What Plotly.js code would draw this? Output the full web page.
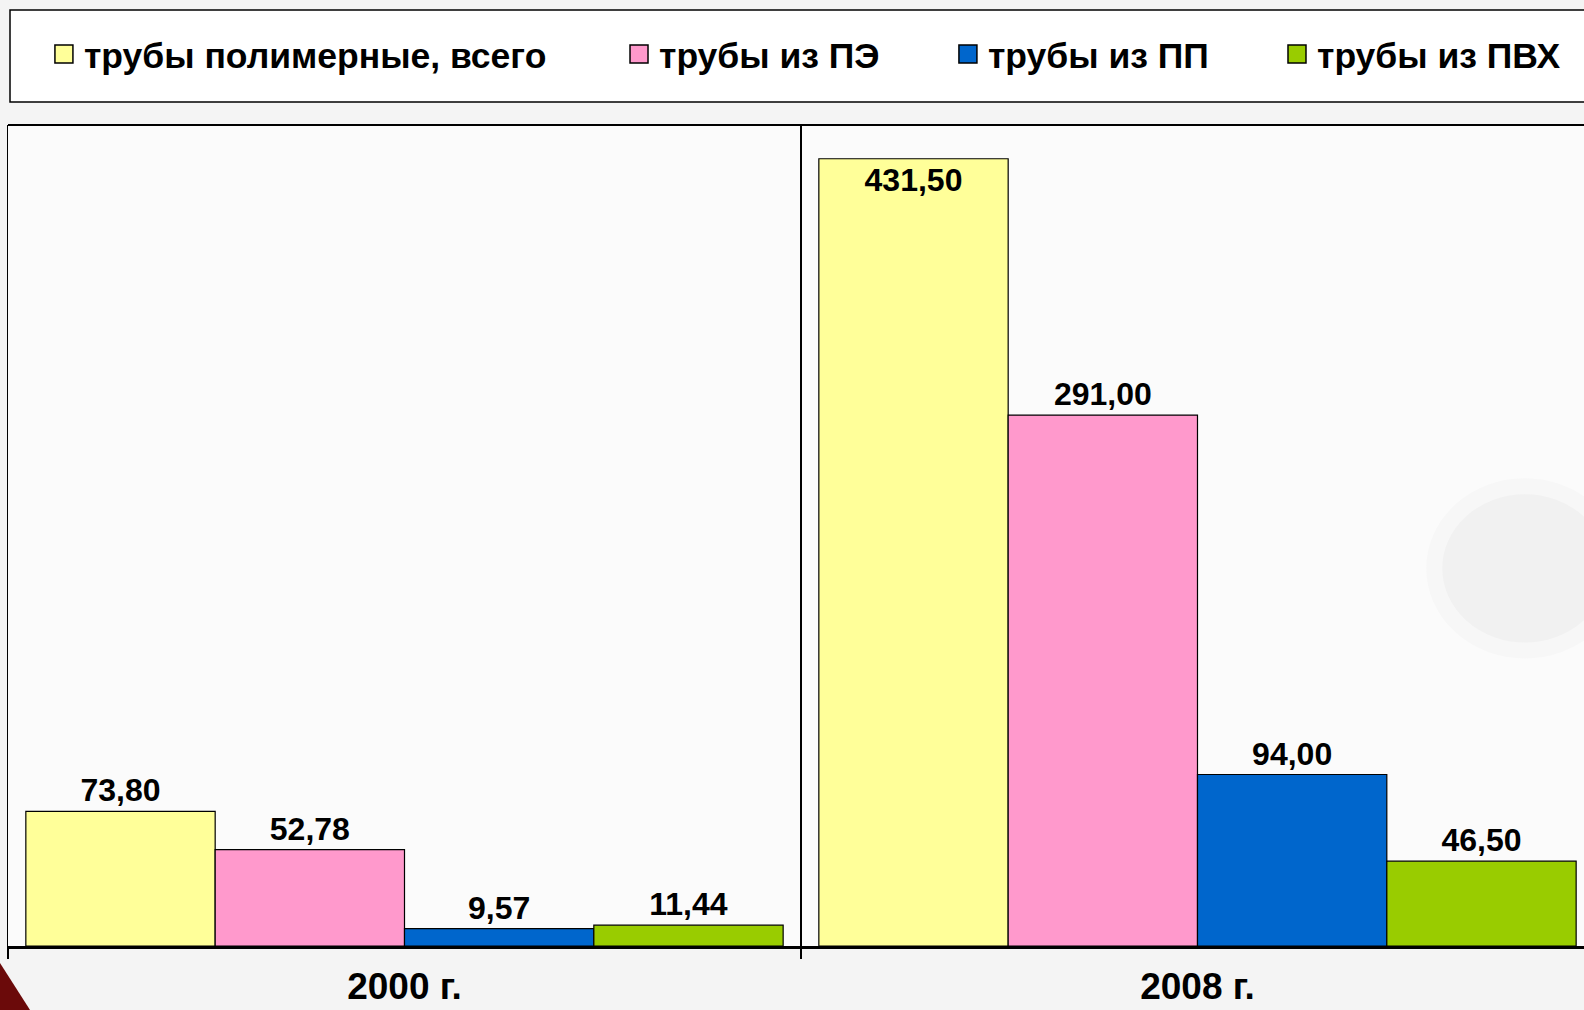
<!DOCTYPE html>
<html>
<head>
<meta charset="utf-8">
<script src="https://cdn.plot.ly/plotly-3.0.1.min.js"></script>
<style>
html,body{margin:0;padding:0;background:#f4f4f4;}
#chart{width:1584px;height:1010px;}
</style>
</head>
<body>
<div id="chart"></div>
<script>
const years = ['2000 г.', '2008 г.'];
const seriesNames = ['трубы полимерные, всего', 'трубы из ПЭ', 'трубы из ПП', 'трубы из ПВХ'];
const totalPolymer = [73.80, 431.50];
const pePipes = [52.78, 291.00];
const ppPipes = [9.57, 94.00];
const pvcPipes = [11.44, 46.50];

const colors = ['#FFFF99', '#FF99CC', '#0066CC', '#99CC00'];
const values = [totalPolymer, pePipes, ppPipes, pvcPipes];
const legends = ['legend', 'legend2', 'legend3', 'legend4'];
const font = 'Liberation Sans, Arial, sans-serif';

const traces = values.map((v, i) => ({
  type: 'bar',
  name: seriesNames[i],
  x: years,
  y: v,
  legend: legends[i],
  marker: {color: colors[i], line: {color: '#000', width: 1.2}},
  texttemplate: '%{y:.2f}',
  textposition: i === 0 ? ['outside', 'inside'] : 'outside',
  insidetextanchor: 'end',
  constraintext: 'none',
  cliponaxis: false,
  textangle: 0,
  textfont: {family: font, size: 32, weight: 'bold', color: '#000'},
  insidetextfont: {family: font, size: 32, weight: 'bold', color: '#000'},
  outsidetextfont: {family: font, size: 32, weight: 'bold', color: '#000'},
  hoverinfo: 'skip'
}));

const legendX = [0.0228, 0.3877, 0.5964, 0.8052];
const legendBase = (x) => ({
  x: x, y: 1.086, xanchor: 'left', yanchor: 'middle',
  orientation: 'h', bgcolor: 'rgba(0,0,0,0)', borderwidth: 0,
  font: {family: font, size: 35.5, weight: 'bold', color: '#000'},
  itemclick: false, itemdoubleclick: false
});

const layout = {
  width: 1584, height: 1010,
  margin: {l: 8, r: 0, t: 125, b: 64},
  paper_bgcolor: '#f4f4f4',
  plot_bgcolor: '#fbfbfb',
  separators: ', ',
  barmode: 'group',
  bargap: 0.045,
  bargroupgap: 0,
  showlegend: true,
  legend: legendBase(legendX[0]),
  legend2: legendBase(legendX[1]),
  legend3: legendBase(legendX[2]),
  legend4: legendBase(legendX[3]),
  xaxis: {
    type: 'category',
    range: [-0.5, 1.4874],
    showline: true, linecolor: '#000', linewidth: 3,
    ticks: 'outside', tickson: 'boundaries', ticklen: 10, tickwidth: 2, tickcolor: '#000',
    showgrid: true, gridcolor: '#000', gridwidth: 1.2,
    ticklabelstandoff: 6,
    tickfont: {family: font, size: 37, weight: 'bold', color: '#000'},
    fixedrange: true
  },
  yaxis: {
    range: [0, 450],
    showline: true, linecolor: '#000', linewidth: 1.5, mirror: false,
    showticklabels: false, showgrid: false, zeroline: false, ticks: '',
    fixedrange: true
  },
  shapes: [
    {type: 'rect', xref: 'paper', yref: 'paper', x0: 0.00127, x1: 1.03, y0: 1.028, y1: 1.140,
     line: {color: '#000', width: 1.5}, fillcolor: '#ffffff', layer: 'below'},
    {type: 'line', xref: 'paper', yref: 'paper', x0: 0, x1: 1.01, y0: 1, y1: 1,
     line: {color: '#000', width: 2}},
    {type: 'circle', xref: 'paper', yref: 'paper', x0: 0.905, x1: 1.02, y0: 0.36, y1: 0.56,
     line: {color: '#f7f7f7', width: 16}, fillcolor: '#f1f1f1', layer: 'below'},
    {type: 'path', xref: 'paper', yref: 'paper',
     path: 'M -0.006 -0.018 L 0.014 -0.078 L -0.006 -0.078 Z',
     fillcolor: '#6b0a0a', line: {width: 0}}
  ]
};

Plotly.newPlot('chart', traces, layout, {displayModeBar: false, staticPlot: true}).then(gd => {
  gd.querySelectorAll('.legendpoints path').forEach(p => {
    p.setAttribute('d', 'M9,9H-9V-9H9Z');
    p.style.strokeWidth = '1.5px';
    p.style.stroke = '#000';
  });
});
</script>
</body>
</html>
